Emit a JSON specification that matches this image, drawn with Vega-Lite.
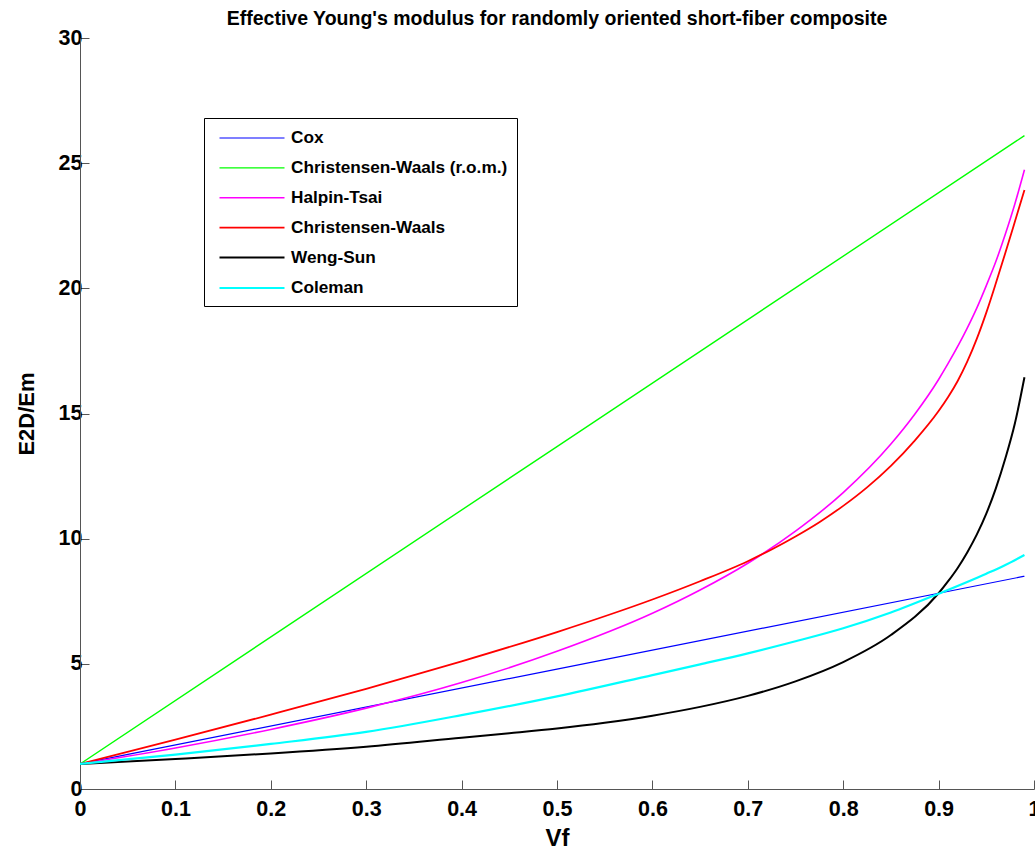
{
  "$schema": "https://vega.github.io/schema/vega-lite/v6.json",
  "width": 954,
  "height": 751,
  "autosize": {"type": "none"},
  "padding": {"left": 80, "top": 38, "right": 1, "bottom": 65},
  "background": "white",
  "title": {
    "text": "Effective Young's modulus for randomly oriented short-fiber composite",
    "font": "Liberation Sans, Arial, sans-serif",
    "fontSize": 19.5,
    "fontWeight": "bold",
    "color": "black",
    "anchor": "middle",
    "frame": "group",
    "offset": -2
  },
  "config": {
    "view": {"stroke": null},
    "axis": {
      "grid": false,
      "domainColor": "#555555",
      "tickColor": "#555555",
      "tickSize": -9,
      "labelFont": "Liberation Sans, Arial, sans-serif",
      "labelFontSize": 21.5,
      "labelFontWeight": "bold",
      "labelColor": "black",
      "titleFont": "Liberation Sans, Arial, sans-serif",
      "titleFontWeight": "bold",
      "titleColor": "black"
    }
  },
  "data": {
    "values": [
      {"series": "Cox", "vf": 0, "e": 1},
      {"series": "Cox", "vf": 0.5, "e": 4.79},
      {"series": "Cox", "vf": 0.99, "e": 8.5},
      {"series": "Christensen-Waals (r.o.m.)", "vf": 0, "e": 1},
      {"series": "Christensen-Waals (r.o.m.)", "vf": 0.5, "e": 13.68},
      {"series": "Christensen-Waals (r.o.m.)", "vf": 0.99, "e": 26.1},
      {"series": "Halpin-Tsai", "vf": 0, "e": 1},
      {"series": "Halpin-Tsai", "vf": 0.1, "e": 1.64},
      {"series": "Halpin-Tsai", "vf": 0.2, "e": 2.38},
      {"series": "Halpin-Tsai", "vf": 0.3, "e": 3.23},
      {"series": "Halpin-Tsai", "vf": 0.4, "e": 4.25},
      {"series": "Halpin-Tsai", "vf": 0.5, "e": 5.5},
      {"series": "Halpin-Tsai", "vf": 0.6, "e": 7.02},
      {"series": "Halpin-Tsai", "vf": 0.65, "e": 7.95},
      {"series": "Halpin-Tsai", "vf": 0.7, "e": 9.02},
      {"series": "Halpin-Tsai", "vf": 0.75, "e": 10.3},
      {"series": "Halpin-Tsai", "vf": 0.8, "e": 11.84},
      {"series": "Halpin-Tsai", "vf": 0.85, "e": 13.78},
      {"series": "Halpin-Tsai", "vf": 0.875, "e": 14.97},
      {"series": "Halpin-Tsai", "vf": 0.9, "e": 16.36},
      {"series": "Halpin-Tsai", "vf": 0.91, "e": 17.0},
      {"series": "Halpin-Tsai", "vf": 0.93, "e": 18.41},
      {"series": "Halpin-Tsai", "vf": 0.94, "e": 19.21},
      {"series": "Halpin-Tsai", "vf": 0.95, "e": 20.11},
      {"series": "Halpin-Tsai", "vf": 0.96, "e": 21.07},
      {"series": "Halpin-Tsai", "vf": 0.97, "e": 22.17},
      {"series": "Halpin-Tsai", "vf": 0.98, "e": 23.38},
      {"series": "Halpin-Tsai", "vf": 0.99, "e": 24.74},
      {"series": "Christensen-Waals", "vf": 0, "e": 1},
      {"series": "Christensen-Waals", "vf": 0.1, "e": 1.97},
      {"series": "Christensen-Waals", "vf": 0.2, "e": 2.97},
      {"series": "Christensen-Waals", "vf": 0.3, "e": 4.0},
      {"series": "Christensen-Waals", "vf": 0.4, "e": 5.1},
      {"series": "Christensen-Waals", "vf": 0.5, "e": 6.27},
      {"series": "Christensen-Waals", "vf": 0.6, "e": 7.57},
      {"series": "Christensen-Waals", "vf": 0.65, "e": 8.3},
      {"series": "Christensen-Waals", "vf": 0.7, "e": 9.1},
      {"series": "Christensen-Waals", "vf": 0.725, "e": 9.57},
      {"series": "Christensen-Waals", "vf": 0.75, "e": 10.09},
      {"series": "Christensen-Waals", "vf": 0.775, "e": 10.66},
      {"series": "Christensen-Waals", "vf": 0.8, "e": 11.31},
      {"series": "Christensen-Waals", "vf": 0.825, "e": 12.05},
      {"series": "Christensen-Waals", "vf": 0.85, "e": 12.91},
      {"series": "Christensen-Waals", "vf": 0.875, "e": 13.92},
      {"series": "Christensen-Waals", "vf": 0.9, "e": 15.1},
      {"series": "Christensen-Waals", "vf": 0.91, "e": 15.66},
      {"series": "Christensen-Waals", "vf": 0.92, "e": 16.3},
      {"series": "Christensen-Waals", "vf": 0.93, "e": 17.07},
      {"series": "Christensen-Waals", "vf": 0.94, "e": 17.98},
      {"series": "Christensen-Waals", "vf": 0.95, "e": 19.03},
      {"series": "Christensen-Waals", "vf": 0.96, "e": 20.2},
      {"series": "Christensen-Waals", "vf": 0.97, "e": 21.42},
      {"series": "Christensen-Waals", "vf": 0.98, "e": 22.67},
      {"series": "Christensen-Waals", "vf": 0.99, "e": 23.93},
      {"series": "Weng-Sun", "vf": 0, "e": 1},
      {"series": "Weng-Sun", "vf": 0.1, "e": 1.2},
      {"series": "Weng-Sun", "vf": 0.2, "e": 1.42},
      {"series": "Weng-Sun", "vf": 0.3, "e": 1.69},
      {"series": "Weng-Sun", "vf": 0.4, "e": 2.05},
      {"series": "Weng-Sun", "vf": 0.45, "e": 2.23},
      {"series": "Weng-Sun", "vf": 0.5, "e": 2.42},
      {"series": "Weng-Sun", "vf": 0.55, "e": 2.65},
      {"series": "Weng-Sun", "vf": 0.6, "e": 2.93},
      {"series": "Weng-Sun", "vf": 0.65, "e": 3.28},
      {"series": "Weng-Sun", "vf": 0.7, "e": 3.72},
      {"series": "Weng-Sun", "vf": 0.75, "e": 4.3},
      {"series": "Weng-Sun", "vf": 0.8, "e": 5.07},
      {"series": "Weng-Sun", "vf": 0.85, "e": 6.15},
      {"series": "Weng-Sun", "vf": 0.9, "e": 7.82},
      {"series": "Weng-Sun", "vf": 0.91, "e": 8.3},
      {"series": "Weng-Sun", "vf": 0.92, "e": 8.83},
      {"series": "Weng-Sun", "vf": 0.93, "e": 9.45},
      {"series": "Weng-Sun", "vf": 0.94, "e": 10.16},
      {"series": "Weng-Sun", "vf": 0.95, "e": 11.0},
      {"series": "Weng-Sun", "vf": 0.96, "e": 12.01},
      {"series": "Weng-Sun", "vf": 0.97, "e": 13.21},
      {"series": "Weng-Sun", "vf": 0.98, "e": 14.61},
      {"series": "Weng-Sun", "vf": 0.99, "e": 16.45},
      {"series": "Coleman", "vf": 0, "e": 1},
      {"series": "Coleman", "vf": 0.1, "e": 1.37},
      {"series": "Coleman", "vf": 0.2, "e": 1.8},
      {"series": "Coleman", "vf": 0.3, "e": 2.28},
      {"series": "Coleman", "vf": 0.4, "e": 2.95},
      {"series": "Coleman", "vf": 0.5, "e": 3.7},
      {"series": "Coleman", "vf": 0.6, "e": 4.55},
      {"series": "Coleman", "vf": 0.65, "e": 4.98},
      {"series": "Coleman", "vf": 0.7, "e": 5.42},
      {"series": "Coleman", "vf": 0.75, "e": 5.9},
      {"series": "Coleman", "vf": 0.8, "e": 6.42},
      {"series": "Coleman", "vf": 0.85, "e": 7.05},
      {"series": "Coleman", "vf": 0.9, "e": 7.8},
      {"series": "Coleman", "vf": 0.95, "e": 8.6},
      {"series": "Coleman", "vf": 0.97, "e": 8.95},
      {"series": "Coleman", "vf": 0.99, "e": 9.35}
    ]
  },
  "mark": {"type": "line", "interpolate": "monotone", "clip": true},
  "encoding": {
    "x": {
      "field": "vf",
      "type": "quantitative",
      "scale": {"domain": [0, 1], "nice": false, "zero": false},
      "axis": {
        "title": "Vf",
        "titleFontSize": 24,
        "values": [0, 0.1, 0.2, 0.3, 0.4, 0.5, 0.6, 0.7, 0.8, 0.9, 1],
        "format": "~g",
        "labelFlush": false,
        "labelPadding": 18,
        "titlePadding": 7
      }
    },
    "y": {
      "field": "e",
      "type": "quantitative",
      "scale": {"domain": [0, 30], "nice": false},
      "axis": {
        "title": "E2D/Em",
        "titleFontSize": 22,
        "values": [0, 5, 10, 15, 20, 25, 30],
        "labelFlush": false,
        "labelPadding": 7,
        "titlePadding": 20
      }
    },
    "color": {
      "field": "series",
      "type": "nominal",
      "scale": {
        "domain": ["Cox", "Christensen-Waals (r.o.m.)", "Halpin-Tsai", "Christensen-Waals", "Weng-Sun", "Coleman"],
        "range": ["#0000ff", "#00ff00", "#ff00ff", "#ff0000", "#000000", "#00ffff"]
      },
      "legend": {
        "title": null,
        "orient": "none",
        "legendX": 124,
        "legendY": 80,
        "strokeColor": "black",
        "fillColor": "white",
        "padding": 9,
        "symbolType": "M-0.5,0H6",
        "symbolSize": 400,
        "symbolStrokeWidth": 2,
        "labelOffset": 55,
        "rowPadding": 9.9,
        "labelFont": "Liberation Sans, Arial, sans-serif",
        "labelFontSize": 17.2,
        "labelFontWeight": "bold",
        "labelColor": "black",
        "labelLimit": 0
      }
    },
    "strokeWidth": {
      "field": "series",
      "type": "nominal",
      "scale": {
        "domain": ["Cox", "Christensen-Waals (r.o.m.)", "Halpin-Tsai", "Christensen-Waals", "Weng-Sun", "Coleman"],
        "range": [1.2, 2.2, 2.2, 2.2, 2.2, 2.2]
      },
      "legend": null
    }
  }
}
